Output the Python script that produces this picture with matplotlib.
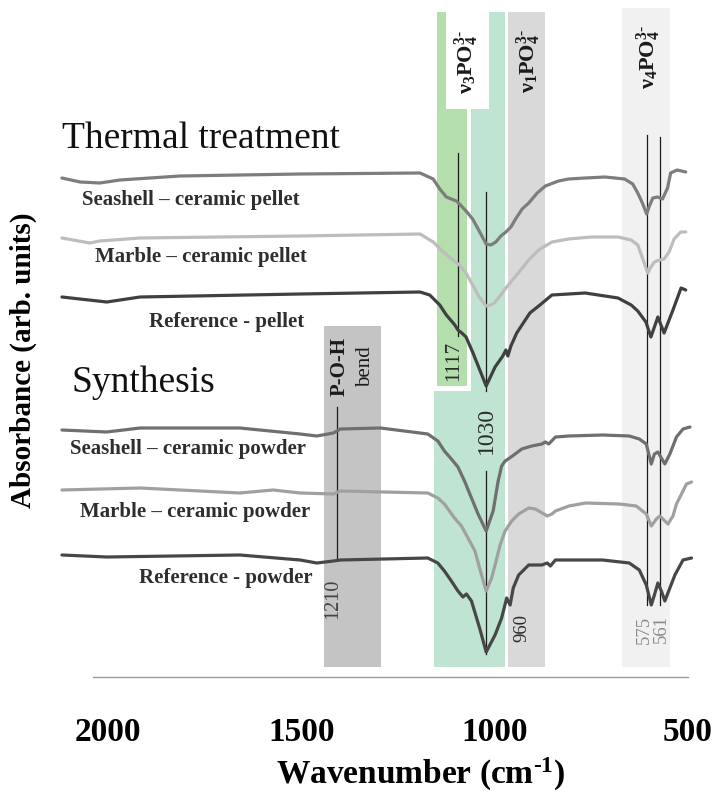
import matplotlib
matplotlib.use('Agg')
import matplotlib.pyplot as plt

plt.rcParams['font.family'] = ['Liberation Serif', 'DejaVu Serif']
plt.rcParams['mathtext.fontset'] = 'custom'
plt.rcParams['mathtext.rm'] = 'Liberation Serif:bold'
plt.rcParams['mathtext.it'] = 'Liberation Serif:italic'
plt.rcParams['mathtext.bf'] = 'Liberation Serif:bold'
plt.rcParams['mathtext.default'] = 'bf'

# FTIR spectra (wavenumber, offset absorbance in arb. units)
seashell_pellet_w = [2119, 2072, 2021, 1969, 1814, 1503, 1193, 1159, 1142, 1125, 1112, 1099, 1091, 1074, 1057,
                     1040, 1022, 1010, 997, 984, 971, 958, 946, 929, 912, 890, 869, 835, 809, 766, 715, 664,
                     643, 630, 617, 607, 600, 591, 579, 566, 553, 545, 528, 506]
seashell_pellet_a = [522, 518, 517, 520, 524, 526, 527, 521, 511, 503, 501, 499, 496, 489, 481,
                     469, 456, 455, 458, 464, 468, 473, 481, 491, 497, 507, 514, 519, 521, 522, 523, 521,
                     516, 507, 496, 486, 494, 502, 503, 501, 512, 527, 530, 528]

marble_pellet_w = [2119, 2047, 2021, 1917, 1503, 1193, 1159, 1133, 1108, 1091, 1074, 1057, 1040, 1022, 1010,
                   1001, 984, 971, 954, 937, 912, 886, 852, 809, 749, 681, 647, 630, 617, 604, 596, 587,
                   574, 562, 549, 536, 519, 506]
marble_pellet_a = [462, 457, 459, 462, 464, 466, 458, 448, 440, 435, 427, 415, 403, 394, 395,
                   397, 405, 412, 420, 428, 440, 450, 458, 461, 463, 463, 460, 455, 441, 427, 433, 438,
                   440, 441, 448, 461, 468, 468]

ref_pellet_w = [2119, 2003, 1917, 1503, 1193, 1168, 1142, 1125, 1103, 1095, 1085, 1074, 1056, 1022, 999, 979,
                971, 966, 958, 943, 909, 883, 852, 766, 681, 647, 630, 609, 596, 578, 562, 539, 518, 506]
ref_pellet_a = [403, 398, 403, 406, 408, 405, 395, 385, 375, 370, 367, 363, 347, 314, 333, 344,
                350, 344, 354, 367, 387, 395, 405, 407, 402, 395, 389, 378, 363, 383, 367, 390, 412, 410]

seashell_powder_w = [2119, 2003, 1917, 1659, 1503, 1460, 1417, 1399, 1295, 1173, 1147, 1130, 1112, 1095, 1078,
                     1060, 1043, 1022, 1004, 991, 982, 973, 965, 947, 930, 904, 878, 869, 860, 843, 808,
                     721, 652, 626, 608, 595, 587, 578, 560, 547, 530, 513, 495]
seashell_powder_a = [270, 268, 272, 272, 266, 264, 267, 271, 272, 266, 259, 249, 241, 233, 219,
                     202, 186, 169, 189, 219, 234, 239, 241, 246, 251, 254, 256, 258, 256, 263, 264,
                     265, 264, 261, 256, 236, 246, 248, 236, 246, 263, 271, 273]

marble_powder_w = [2119, 1917, 1659, 1573, 1503, 1417, 1399, 1173, 1147, 1130, 1104, 1086, 1069, 1051, 1034,
                   1022, 1008, 999, 986, 973, 956, 938, 912, 895, 886, 864, 852, 843, 808, 765, 678,
                   634, 608, 595, 582, 573, 565, 552, 539, 530, 513, 504, 491]
marble_powder_a = [210, 212, 207, 210, 207, 206, 209, 207, 202, 196, 182, 174, 162, 149, 125,
                   109, 122, 135, 155, 169, 179, 186, 192, 191, 189, 184, 186, 189, 194, 197, 196,
                   194, 186, 174, 181, 184, 181, 176, 184, 196, 209, 216, 218]

ref_powder_w = [2119, 2003, 1659, 1503, 1460, 1417, 1399, 1173, 1147, 1130, 1112, 1095, 1082, 1073, 1060,
                1039, 1022, 999, 982, 969, 960, 952, 938, 912, 878, 864, 856, 843, 721, 652, 626, 608,
                595, 587, 578, 569, 560, 547, 534, 513, 491]
ref_powder_a = [145, 143, 145, 140, 137, 139, 140, 142, 137, 129, 119, 109, 103, 106, 99,
                72, 48, 65, 82, 102, 95, 112, 125, 135, 135, 137, 134, 140, 140, 137, 130, 115,
                95, 105, 117, 109, 99, 112, 125, 140, 142]

spectra = [
    (seashell_pellet_w, seashell_pellet_a, '#7d7d7d'),
    (marble_pellet_w, marble_pellet_a, '#bdbdbd'),
    (ref_pellet_w, ref_pellet_a, '#404040'),
    (seashell_powder_w, seashell_powder_a, '#6f6f6f'),
    (marble_powder_w, marble_powder_a, '#a0a0a0'),
    (ref_powder_w, ref_powder_a, '#474747'),
]

sample_names = ['Seashell – ceramic pellet', 'Marble – ceramic pellet', 'Reference - pellet',
                'Seashell – ceramic powder', 'Marble – ceramic powder', 'Reference - powder']
sample_label_w = [1785, 1759, 1694, 1793, 1775, 1696]
sample_label_y = [495, 438, 373, 246, 183, 117]

# shaded bands: (w_left, w_right, y_bottom, y_top, colour)
bands = [
    (1441, 1294, 33, 374, '#c4c4c4'),   # P-O-H bend
    (1157, 973, 33, 309, '#bfe4d2'),    # v3 lower part
    (1061, 973, 309, 688, '#bfe4d2'),   # v3 upper part
    (1149, 1072, 314, 688, '#b4dfac'),  # 1117 strip
    (966, 870, 33, 688, '#d9d9d9'),     # v1
    (671, 547, 33, 692, '#f1f1f1'),     # v4
]

# peak marker lines: (wavenumber, y_bottom, y_top)
peak_lines = [(1094, 364, 547), (1022, 309, 508), (1022, 46, 229), (1408, 140, 293),
              (606, 95, 565), (573, 95, 563)]

# peak labels: (text, wavenumber, y, size, colour)
peak_labels = [('1117', 1105, 339, 15, '#2b2b2b'),
               ('1030', 1022, 270, 17, '#2b2b2b'),
               ('1210', 1420, 101, 14.5, '#444444'),
               ('960', 929, 72, 13.5, '#2b2b2b'),
               ('575', 612, 70, 13.5, '#8a8a8a'),
               ('561', 569, 71, 13.5, '#8a8a8a')]

band_labels = [(r'ν$_3$PO$_4^{3\text{-}}$', 1072, 638), (r'ν$_1$PO$_4^{3\text{-}}$', 911, 639),
               (r'ν$_4$PO$_4^{3\text{-}}$', 601, 643)]

ticks = [2000, 1500, 1000, 500]

fig = plt.figure(figsize=(7.18, 7.99), dpi=100)
ax = fig.add_axes([60 / 718, 99 / 799, 635 / 718, 700 / 799])
ax.set_xlim(2124, 482)
ax.set_ylim(0, 700)

for w1, w2, y0, y1, c in bands:
    ax.fill_between([w1, w2], y0, y1, color=c, lw=0, zorder=0)
# white box behind the v3 label
ax.fill_between([1126, 1015], 591, 690, color='white', lw=0, zorder=1)

for w, y0, y1 in peak_lines:
    ax.plot([w, w], [y0, y1], color='#1a1a1a', lw=0.9, zorder=2)

for w, a, c in spectra:
    ax.plot(w, a, color=c, lw=2.3, solid_joinstyle='round', solid_capstyle='round', zorder=3)

for name, w, y in zip(sample_names, sample_label_w, sample_label_y):
    ax.text(w, y, name, ha='center', va='baseline', fontsize=15, fontweight='bold', color='#2e2e2e')

for txt, w, y, s, c in peak_labels:
    ax.text(w, y, txt, rotation=90, ha='center', va='center', fontsize=s, color=c)

for txt, w, y in band_labels:
    ax.text(w, y, txt, rotation=90, ha='center', va='center', fontsize=16, fontweight='bold',
            color='#1a1a1a')

ax.text(1401, 334, 'P-O-H', rotation=90, ha='center', va='center', fontsize=15, fontweight='bold',
        color='#1a1a1a')
ax.text(1334, 333, 'bend', rotation=90, ha='center', va='center', fontsize=15, color='#1a1a1a')

ax.text(2119, 552, 'Thermal treatment', ha='left', va='baseline', fontsize=27, color='#111111')
ax.text(2093, 308, 'Synthesis', ha='left', va='baseline', fontsize=27, color='#111111')

# bottom axis line
ax.plot([2039, 500], [23, 23], color='#9a9a9a', lw=1, zorder=1)

for s in ax.spines.values():
    s.set_visible(False)
ax.set_yticks([])
ax.set_xticks(ticks)
ax.set_xticklabels([str(t) for t in ticks], fontsize=24, fontweight='bold')
ax.tick_params(axis='x', length=0, pad=12)

ax.set_xlabel(r'Wavenumber (cm$^{\text{-}1}$)', fontsize=24, fontweight='bold')
ax.xaxis.set_label_coords((421 - 60) / 635, -0.08)
ax.set_ylabel('Absorbance (arb. units)', fontsize=21, fontweight='bold')
ax.yaxis.set_label_coords(-0.036, 0.486)

fig.savefig('out.png', dpi=100, facecolor='white')
